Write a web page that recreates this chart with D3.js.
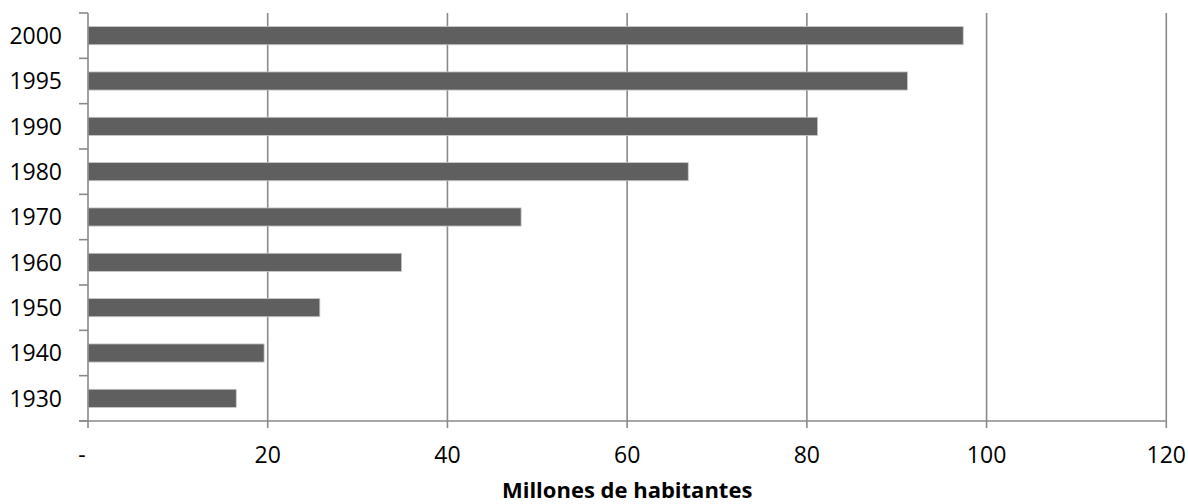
<!DOCTYPE html>
<html>
<head>
<meta charset="utf-8">
<script src="https://cdn.jsdelivr.net/npm/d3@7"></script>
<style>
  html, body { margin: 0; padding: 0; background: #fff; }
  svg { display: block; }
  text { font-family: "Open Sans", "Liberation Sans", sans-serif; fill: #000; }
</style>
</head>
<body>
<svg id="chart" width="1188" height="504"></svg>
<script>
// Population by census year (millions)
const years = ["1930", "1940", "1950", "1960", "1970", "1980", "1990", "1995", "2000"];
const population = [16.5, 19.6, 25.8, 34.9, 48.2, 66.8, 81.2, 91.2, 97.4];
const xTicks = [0, 20, 40, 60, 80, 100, 120];
const xTickLabels = ["-", "20", "40", "60", "80", "100", "120"];
const xTitle = "Millones de habitantes";

const rows = years.map((y, i) => ({ year: y, value: population[i] }));

const svg = d3.select("#chart");
const plotLeft = 88, plotRight = 1166.3, plotTop = 13, plotBottom = 421;

const x = d3.scaleLinear().domain([0, 120]).range([plotLeft, plotRight]);
// top of the plot holds the latest year
const y = d3.scaleBand()
  .domain(years.slice().reverse())
  .range([plotTop, plotBottom])
  .paddingInner(0.6)
  .paddingOuter(0.3);

const gridColor = "#8a8a8a";

// vertical gridlines
svg.append("g")
  .selectAll("line")
  .data(xTicks.filter(d => d > 0))
  .join("line")
  .attr("x1", d => x(d)).attr("x2", d => x(d))
  .attr("y1", plotTop).attr("y2", plotBottom)
  .attr("stroke", gridColor)
  .attr("stroke-width", 1.6);

// bars
svg.append("g")
  .selectAll("rect")
  .data(rows)
  .join("rect")
  .attr("x", x(0))
  .attr("y", d => y(d.year))
  .attr("width", d => x(d.value) - x(0))
  .attr("height", y.bandwidth())
  .attr("fill", "#5f5f5f")
  .attr("stroke", "#c8c8c8")
  .attr("stroke-width", 0.8);

// category axis line with outward ticks at band boundaries
const bounds = d3.range(years.length + 1).map(i => plotTop + i * (plotBottom - plotTop) / years.length);
const yAxis = svg.append("g");
yAxis.append("line")
  .attr("x1", plotLeft).attr("x2", plotLeft)
  .attr("y1", plotTop).attr("y2", plotBottom)
  .attr("stroke", gridColor).attr("stroke-width", 1.6);
yAxis.selectAll("line.tick")
  .data(bounds)
  .join("line")
  .attr("class", "tick")
  .attr("x1", plotLeft - 9).attr("x2", plotLeft)
  .attr("y1", d => d).attr("y2", d => d)
  .attr("stroke", gridColor).attr("stroke-width", 1.6);
yAxis.selectAll("text")
  .data(years)
  .join("text")
  .attr("x", 62)
  .attr("y", d => y(d) + y.bandwidth() / 2)
  .attr("dy", "0.36em")
  .attr("text-anchor", "end")
  .attr("font-size", 23)
  .text(d => d);

// value axis along the bottom
const xAxis = svg.append("g");
xAxis.append("line")
  .attr("x1", plotLeft - 9).attr("x2", plotRight)
  .attr("y1", plotBottom).attr("y2", plotBottom)
  .attr("stroke", gridColor).attr("stroke-width", 1.6);
xAxis.selectAll("line.tick")
  .data(xTicks)
  .join("line")
  .attr("class", "tick")
  .attr("x1", d => x(d)).attr("x2", d => x(d))
  .attr("y1", plotBottom).attr("y2", plotBottom + 7)
  .attr("stroke", gridColor).attr("stroke-width", 1.6);
xAxis.selectAll("text")
  .data(xTicks)
  .join("text")
  .attr("x", (d, i) => i === 0 ? x(d) - 6 : x(d))
  .attr("y", 463)
  .attr("text-anchor", "middle")
  .attr("font-size", 23)
  .text((d, i) => xTickLabels[i]);

// axis title
svg.append("text")
  .attr("x", (plotLeft + plotRight) / 2)
  .attr("y", 498)
  .attr("text-anchor", "middle")
  .attr("font-size", 22)
  .attr("font-weight", "bold")
  .text(xTitle);
</script>
</body>
</html>
